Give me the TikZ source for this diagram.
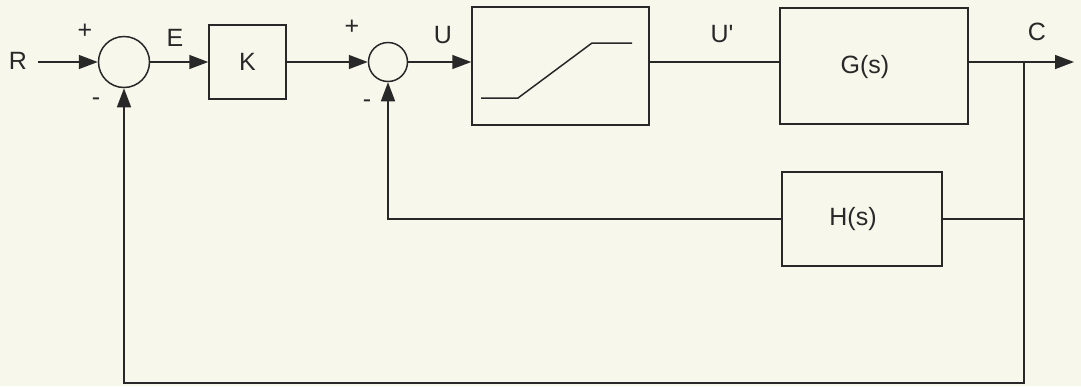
\documentclass[tikz,border=0pt]{standalone}
\usepackage{fontspec}
\setmainfont{Liberation Sans}
\usetikzlibrary{arrows.meta}
\definecolor{paper}{RGB}{248,247,236}
\definecolor{ink}{RGB}{40,40,40}
\begin{document}
\begin{tikzpicture}[x=1pt,y=-1pt,
  every node/.style={font=\fontsize{25}{30}\selectfont, text=ink},
  wire/.style={draw=ink, line width=1.5pt},
  arr/.style={wire, -{Triangle[length=19pt,width=14pt]}},
  blockbox/.style={draw=ink, line width=1.5pt, rectangle, inner sep=0pt},
  sumnode/.style={draw=ink, line width=1.5pt, circle, inner sep=0pt},
  lbl/.style={inner sep=0pt}]
\fill[paper] (0,0) rectangle (1081,386);
\useasboundingbox (0,0) rectangle (1081,386);
% nodes
\node[sumnode, minimum size=51pt] (s1) at (124,62) {};
\node[blockbox, minimum width=77pt, minimum height=74pt] (K) at (247.5,62) {K};
\node[sumnode, minimum size=39pt] (s2) at (388,62) {};
\node[blockbox, minimum width=177pt, minimum height=118pt] (sat) at (560.5,66) {};
\node[blockbox, minimum width=188pt, minimum height=116pt] (G) at (874,66) {};
\node[lbl] (Gt) at (865,67) {G(s)};
\node[blockbox, minimum width=160pt, minimum height=94pt] (H) at (862,219) {};
\node[lbl] (Ht) at (853,219) {H(s)};
\coordinate (in) at (38,62);
\coordinate (out) at (1074,62);
\coordinate (br) at (1024,62);
\coordinate (bot) at (124,383);
% labels
\node[lbl] (lR) at (18,61) {R};
\node[lbl] (lp1) at (85,31) {+};
\node[lbl] (lm1) at (96,102) {-};
\node[lbl] (lE) at (175,38) {E};
\node[lbl] (lp2) at (352,27) {+};
\node[lbl] (lm2) at (367,104) {-};
\node[lbl] (lU) at (443,35) {U};
\node[lbl] (lUp) at (722,34) {U\textquotesingle};
\node[lbl] (lC) at (1037,32) {C};
% saturation curve
\draw[wire] (481,98) -- (518,98) -- (592,43) -- (632,43);
% connectors
\draw[arr] (in) -- (s1.west);
\draw[arr] (s1.east) -- (K.west);
\draw[arr] (K.east) -- (s2.west);
\draw[arr] (s2.east) -- (s2.east -| sat.west);
\draw[wire] (sat.east |- br) -- (G.west |- br);
\draw[wire] (G.east |- br) -- (br);
\draw[arr] (br) -- (out);
\draw[wire] (br) -- (br |- H.east) -- (H.east);
\draw[arr] (H.west) -| (s2.south);
\draw[arr] (br |- H.east) -- (br |- bot) -- (bot) -- (s1.south);
\end{tikzpicture}
\end{document}
